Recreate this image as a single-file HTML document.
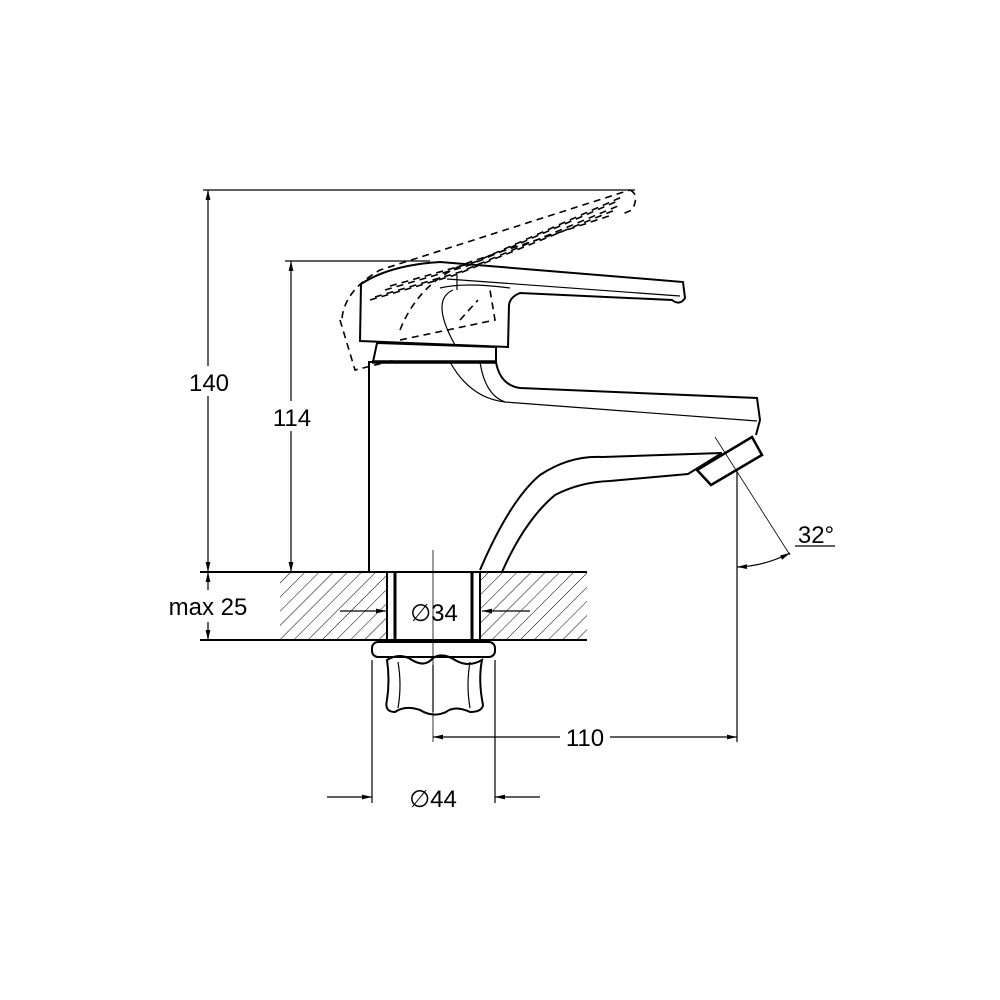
<!DOCTYPE html>
<html><head><style>
html,body{margin:0;padding:0;background:#fff;}
svg{display:block;}
text{font-family:"Liberation Sans",sans-serif;fill:#000;}
</style></head><body>
<svg width="1000" height="1000" viewBox="0 0 1000 1000" xmlns="http://www.w3.org/2000/svg">
<defs>
<pattern id="h" width="10" height="10" patternUnits="userSpaceOnUse" patternTransform="rotate(45)">
<line x1="0" y1="0" x2="0" y2="10" stroke="#000" stroke-width="1"/>
</pattern>
<marker id="a" viewBox="0 0 10 6" refX="10" refY="3" markerWidth="11" markerHeight="6" orient="auto-start-reverse" markerUnits="userSpaceOnUse">
<path d="M0,0.6 L10,3 L0,5.4z" fill="#000"/>
</marker>
</defs>
<g stroke="#000" fill="none" stroke-width="1.2">
<rect x="280" y="572" width="107" height="68" fill="url(#h)" stroke="none"/>
<rect x="481" y="572" width="106" height="68" fill="url(#h)" stroke="none"/>
<line x1="200" y1="572" x2="587" y2="572" stroke-width="2"/>
<line x1="200" y1="640" x2="587" y2="640" stroke-width="2"/>
<line x1="387" y1="572" x2="387" y2="641" stroke-width="2"/>
<line x1="395" y1="572" x2="395" y2="641" stroke-width="3"/>
<line x1="472" y1="572" x2="472" y2="641" stroke-width="3"/>
<line x1="480" y1="572" x2="480" y2="641" stroke-width="2"/>
<!-- nut -->
<rect x="372" y="642" width="123" height="15" rx="6" stroke-width="2"/>
<path d="M387,660 Q400,652 412,660 Q425,668 433,658 Q442,652 455,660 Q468,668 482,660 Q478,680 483,705 Q482,712 470,712 Q455,705 446,712 Q433,718 420,710 Q405,705 395,712 Q384,712 387,700 Q390,680 387,660 Z" stroke-width="2"/>
<line x1="433" y1="665" x2="433" y2="712"/>
<path d="M398,662 Q402,685 398,708"/>
<path d="M470,662 Q466,685 470,708"/>
<!-- body -->
<path d="M369,572 L369,362 L496,362" stroke-width="2"/>
<line x1="372" y1="362" x2="496" y2="362" stroke-width="3.5"/>
<path d="M373,362 L377,343 L496,347 L496,362" stroke-width="2"/>
<!-- handle -->
<path d="M361,284 Q390,265 440,262 L683,282 L685,298 Q680,306 672,300 L520,293 Q510,297 509,305 L508,347 L360,341 Z" stroke-width="2"/>
<path d="M447,279 L680,296"/>
<path d="M440,288 Q465,282 510,288"/>
<path d="M457,275 L457,290"/>
<path d="M453,290 Q430,300 455,345"/>
<!-- spout -->
<path d="M496,362 Q500,385 520,388 L757,398 L760,420 L756,435" stroke-width="2"/>
<path d="M450,362 Q470,398 505,402 L757,421"/>
<path d="M480,362 Q485,395 505,402"/>
<path d="M480,570 Q510,500 540,475 Q570,455 603,457 L722,453" stroke-width="2"/>
<path d="M502,572 Q525,520 555,495 Q580,482 610,481 L688,474 L722,453" stroke-width="2"/>
<path d="M697,470 L752,437 L762,455 L711,485 Z" stroke-width="2.5"/>
<!-- dashed raised lever -->
<g stroke-dasharray="7,5" stroke-width="1.6">
<path d="M340,320 L355,370 L395,360"/>
<path d="M342,318 Q345,290 380,270 L630,190"/>
<path d="M370,300 L455,275 L615,210"/>
<path d="M375,297 L460,272 L618,206"/>
<path d="M385,290 L470,265 L620,200"/>
<path d="M390,286 L475,262 L624,196"/>
<path d="M400,330 Q420,280 470,262 L612,215"/>
<path d="M400,340 L495,320 L490,290"/>
<path d="M460,320 L478,300"/>
<path d="M630,190 Q640,195 632,210 L620,215"/>
</g>
<!-- dimension lines -->
<line x1="203" y1="190" x2="635" y2="190"/>
<line x1="285" y1="261" x2="430" y2="261"/>
<line x1="208" y1="190" x2="208" y2="572" marker-start="url(#a)" marker-end="url(#a)"/>
<line x1="291" y1="261" x2="291" y2="572" marker-start="url(#a)" marker-end="url(#a)"/>
<line x1="208" y1="590" x2="208" y2="572" marker-end="url(#a)"/>
<line x1="208" y1="622" x2="208" y2="640" marker-end="url(#a)"/>
<line x1="340" y1="611" x2="386" y2="611" marker-end="url(#a)"/>
<line x1="530" y1="611" x2="482" y2="611" marker-end="url(#a)"/>
<line x1="433" y1="550" x2="433" y2="742" stroke-width="0.8"/>
<line x1="737" y1="470" x2="737" y2="742"/>
<line x1="433" y1="737" x2="560" y2="737" marker-start="url(#a)"/>
<line x1="610" y1="737" x2="737" y2="737" marker-end="url(#a)"/>
<line x1="372" y1="660" x2="372" y2="803"/>
<line x1="495" y1="660" x2="495" y2="803"/>
<line x1="327" y1="797" x2="372" y2="797" marker-end="url(#a)"/>
<line x1="540" y1="797" x2="495" y2="797" marker-end="url(#a)"/>
<line x1="715" y1="437" x2="790" y2="555" stroke-width="0.8"/>
<path d="M737,567 Q765,566 790,553" marker-start="url(#a)" marker-end="url(#a)"/>
<line x1="795" y1="546" x2="835" y2="546"/>
</g>
<rect x="188" y="366" width="44" height="30" fill="#fff"/>
<text x="209" y="391" font-size="24" text-anchor="middle">140</text>
<rect x="270" y="401" width="44" height="30" fill="#fff"/>
<text x="292" y="426" font-size="24" text-anchor="middle">114</text>
<text x="208" y="615" font-size="24" text-anchor="middle">max 25</text>
<text x="434" y="621" font-size="24" text-anchor="middle">∅34</text>
<text x="585" y="746" font-size="24" text-anchor="middle">110</text>
<text x="433" y="807" font-size="24" text-anchor="middle">∅44</text>
<text x="816" y="543" font-size="24" text-anchor="middle">32°</text>
</svg>
</body></html>
